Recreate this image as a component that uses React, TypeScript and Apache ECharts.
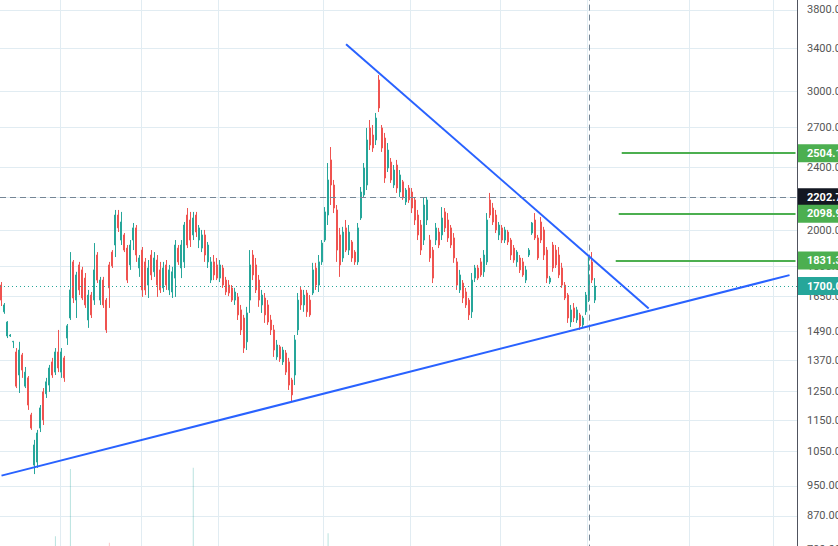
import React, { useEffect, useRef } from "react";
import * as echarts from "echarts";

// Daily OHLC bars (price), oldest first
const opens = [
  1705, 1577, 1470, 1470, 1445, 1403, 1312, 1391, 1270, 1301,
  1168, 1009, 1018, 1124, 1249, 1242, 1274, 1363, 1323, 1403,
  1323, 1379, 1461, 1549, 1824, 1632, 1808, 1782, 1740, 1540,
  1656, 1632, 1861, 1632, 1730, 1632, 1808, 1877, 1916, 2091,
  1944, 1973, 1899, 1808, 1944, 2014, 1792, 1888, 1824, 1705,
  1861, 1772, 1834, 1782, 1691, 1808, 1681, 1671, 1740, 1899,
  1792, 1824, 2091, 2061, 1973, 2091, 1944, 1899, 1973, 1824,
  1730, 1824, 1808, 1740, 1792, 1730, 1705, 1691, 1632, 1647,
  1586, 1549, 1445, 1632, 1861, 1808, 1730, 1609, 1642, 1609,
  1540, 1496, 1383, 1424, 1363, 1399, 1363, 1293, 1312, 1496,
  1681, 1609, 1666, 1632, 1666, 1792, 1705, 1824, 1944, 2091,
  2455, 2282, 2122, 1973, 1845, 2014, 1888, 1933, 1877, 1824,
  2073, 2217, 2282, 2695, 2640, 2602, 3099, 2695, 2617, 2398,
  2440, 2282, 2419, 2236, 2303, 2172, 2262, 2236, 2185, 2091,
  2031, 1944, 2061, 1944, 1888, 1944, 1990, 1973, 2110, 2061,
  2014, 1956, 1824, 1681, 1715, 1671, 1632, 1577, 1740, 1792,
  1824, 1772, 1824, 2185, 2134, 2091, 1973, 2014, 1944, 1990,
  1944, 1899, 1824, 1845, 1824, 1730, 1861, 1984, 2061, 1956,
  2049, 2002, 1888, 1720, 1916, 1888, 1861, 1792, 1705, 1656,
  1531, 1595, 1540, 1563, 1518, 1577, 1632, 1824, 1632,
];

const closes = [
  1632, 1609, 1531, 1474, 1447, 1270, 1411, 1331, 1323, 1202,
  1124, 1070, 1108, 1192, 1151, 1286, 1339, 1312, 1403, 1339,
  1403, 1301, 1514, 1681, 1642, 1756, 1681, 1642, 1609, 1656,
  1563, 1782, 1730, 1730, 1609, 1496, 1691, 1803, 2091, 2014,
  2049, 1888, 1730, 1916, 2014, 1861, 1845, 1681, 1681, 1792,
  1756, 1845, 1705, 1681, 1792, 1705, 1782, 1772, 1916, 1824,
  1916, 2031, 1916, 1944, 2073, 1990, 2014, 1973, 1861, 1916,
  1824, 1756, 1740, 1808, 1705, 1671, 1666, 1632, 1671, 1563,
  1496, 1419, 1572, 1808, 1756, 1681, 1632, 1656, 1563, 1531,
  1496, 1411, 1432, 1375, 1411, 1323, 1274, 1238, 1453, 1632,
  1609, 1656, 1577, 1563, 1782, 1705, 1824, 1927, 2110, 2316,
  2282, 2134, 1888, 1808, 1990, 1888, 1990, 1845, 1824, 2014,
  2236, 2398, 2602, 2564, 2542, 2774, 2856, 2542, 2329, 2527,
  2316, 2384, 2262, 2350, 2198, 2249, 2185, 2134, 2061, 1973,
  1888, 2153, 2185, 1845, 1740, 2014, 1916, 2073, 2014, 1956,
  1916, 1845, 1705, 1756, 1642, 1609, 1563, 1730, 1792, 1740,
  1756, 1861, 2061, 2091, 2049, 2002, 2031, 1944, 2002, 1933,
  1861, 1834, 1877, 1782, 1756, 1782, 1888, 2043, 1956, 1845,
  1944, 1861, 1740, 1740, 1792, 1808, 1756, 1705, 1642, 1549,
  1586, 1549, 1586, 1514, 1549, 1656, 1756, 1730, 1700,
];

const lows = [
  1604, 1568, 1461, 1466, 1419, 1263, 1245, 1301, 1263, 1185,
  1118, 983, 1001, 1111, 1134, 1227, 1249, 1301, 1312, 1323,
  1301, 1286, 1432, 1540, 1618, 1549, 1656, 1632, 1595, 1505,
  1549, 1609, 1715, 1609, 1595, 1483, 1595, 1792, 1850, 1990,
  1916, 1877, 1715, 1782, 1888, 1824, 1746, 1647, 1656, 1642,
  1730, 1746, 1647, 1666, 1671, 1681, 1656, 1642, 1647, 1808,
  1740, 1792, 1899, 1905, 1944, 1961, 1899, 1877, 1824, 1792,
  1715, 1730, 1730, 1720, 1691, 1656, 1651, 1623, 1609, 1540,
  1474, 1399, 1411, 1572, 1730, 1666, 1600, 1572, 1527, 1518,
  1474, 1383, 1371, 1363, 1351, 1312, 1256, 1213, 1274, 1474,
  1586, 1577, 1554, 1554, 1656, 1681, 1671, 1808, 1933, 2031,
  2153, 2103, 1824, 1746, 1824, 1877, 1861, 1824, 1808, 1808,
  2061, 2198, 2249, 2527, 2513, 2564, 2823, 2513, 2296, 2370,
  2296, 2262, 2230, 2204, 2185, 2153, 2166, 2103, 2031, 1944,
  1861, 1916, 2031, 1824, 1715, 1916, 1899, 1944, 1990, 1933,
  1899, 1819, 1681, 1666, 1618, 1595, 1540, 1549, 1720, 1730,
  1746, 1746, 1808, 2073, 2031, 1984, 1944, 1927, 1927, 1916,
  1834, 1819, 1798, 1766, 1746, 1715, 1850, 1973, 1944, 1834,
  1927, 1834, 1715, 1710, 1772, 1792, 1740, 1691, 1632, 1527,
  1509, 1531, 1527, 1496, 1505, 1563, 1623, 1715, 1618,
];

const highs = [
  1720, 1618, 1535, 1478, 1449, 1419, 1445, 1399, 1343, 1308,
  1175, 1086, 1118, 1202, 1263, 1301, 1351, 1379, 1419, 1496,
  1419, 1387, 1522, 1877, 1834, 1772, 1824, 1798, 1766, 1681,
  1671, 1927, 1877, 1746, 1746, 1642, 1824, 1888, 2122, 2122,
  2110, 1984, 1916, 1944, 2043, 2031, 1861, 1905, 1845, 1834,
  1888, 1877, 1861, 1824, 1824, 1834, 1808, 1798, 1944, 1916,
  1944, 2049, 2134, 2110, 2110, 2110, 2031, 2002, 2002, 1933,
  1850, 1861, 1845, 1834, 1808, 1746, 1730, 1705, 1691, 1666,
  1609, 1563, 1600, 1888, 1888, 1845, 1756, 1681, 1666, 1632,
  1563, 1518, 1453, 1432, 1424, 1411, 1379, 1301, 1474, 1666,
  1695, 1681, 1681, 1656, 1819, 1819, 1861, 1944, 2140, 2433,
  2549, 2316, 2153, 2014, 2020, 2061, 2031, 1944, 1888, 2043,
  2269, 2433, 2695, 2758, 2718, 2815, 3144, 2718, 2656, 2579,
  2469, 2419, 2455, 2384, 2316, 2262, 2282, 2262, 2198, 2122,
  2061, 2198, 2204, 1973, 1905, 2043, 2014, 2140, 2134, 2103,
  2031, 1984, 1845, 1782, 1730, 1691, 1642, 1766, 1808, 1808,
  1845, 1888, 2103, 2230, 2166, 2122, 2049, 2031, 2020, 2002,
  1956, 1916, 1888, 1861, 1845, 1803, 1899, 2049, 2103, 1973,
  2079, 2020, 1905, 1751, 1933, 1916, 1905, 1819, 1720, 1666,
  1609, 1618, 1600, 1572, 1559, 1671, 1850, 1877, 1740,
];

// Volume per bar (millions)
const volumes = [
  3.1, 2.4, 4.2, 2.0, 2.6, 5.1, 4.4, 3.3, 3.9, 4.8,
  5.5, 6.2, 5.8, 4.1, 3.6, 3.0, 3.4, 2.7, 9.2, 4.6,
  3.8, 3.2, 5.4, 20.6, 6.1, 4.4, 3.5, 3.1, 3.7, 4.2,
  3.0, 5.9, 4.7, 3.2, 3.6, 4.9, 8.1, 4.3, 6.4, 5.0,
  4.1, 3.8, 4.5, 3.9, 4.0, 3.7, 2.9, 4.4, 3.3, 3.1,
  2.8, 3.0, 3.6, 2.7, 3.2, 2.9, 2.6, 2.8, 4.6, 3.4,
  3.9, 4.8, 5.2, 3.6, 20.8, 4.1, 3.0, 2.7, 3.4, 2.9,
  3.1, 2.6, 2.4, 2.8, 3.0, 2.5, 2.3, 2.6, 2.2, 3.1,
  3.5, 4.0, 4.6, 5.7, 3.8, 3.1, 3.0, 2.6, 2.9, 2.7,
  3.0, 3.6, 2.8, 2.5, 2.6, 3.2, 3.7, 4.4, 5.1, 4.8,
  3.6, 2.9, 3.0, 2.8, 4.1, 3.3, 3.9, 4.5, 6.0, 9.7,
  6.8, 5.2, 5.9, 4.3, 3.8, 3.4, 3.1, 2.9, 2.7, 3.6,
  4.9, 5.6, 6.7, 5.4, 4.2, 5.1, 7.2, 6.3, 5.0, 4.4,
  3.9, 3.3, 3.5, 3.0, 3.2, 2.8, 2.6, 2.9, 3.1, 3.4,
  3.7, 4.0, 3.3, 3.6, 3.9, 3.5, 2.8, 3.2, 2.9, 2.7,
  2.6, 2.9, 3.8, 3.1, 3.0, 2.7, 3.2, 3.9, 2.8, 2.5,
  2.4, 3.0, 4.6, 4.1, 3.2, 2.9, 2.6, 2.4, 2.3, 2.5,
  2.7, 2.6, 2.4, 2.8, 2.6, 2.5, 2.9, 3.4, 3.3, 3.0,
  2.9, 3.1, 3.4, 2.2, 3.0, 2.6, 2.8, 3.1, 3.3, 3.9,
  3.2, 2.8, 2.7, 3.0, 2.6, 3.4, 4.2, 3.9, 3.5,
];

// Price scale ticks on the right axis
const priceTicks = [3800, 3400, 3000, 2700, 2400, 2200, 2000, 1800, 1650, 1490, 1370, 1250, 1150, 1050, 950, 870, 790];

// Session slots: traded bars plus empty space to the right
const sessionCount = 266;
const sessions = Array.from({ length: sessionCount }, (_, i) => `S${i + 1}`);
// Month boundaries (slot index) for the vertical grid
const monthStarts = [20, 47, 73, 108, 137, 167, 196, 230, 258];

// Drawn trend lines: [slot, price]
const resistanceLine = [[115, 3440], [216, 1593]];
const supportLine = [[0, 978.6], [263, 1755]];
// Horizontal levels: price and the slot where each ray starts
const levelPrices = [2504.1, 2098.9, 1831.3];
const levelStarts = [207, 206, 205];
// Crosshair and last price
const crosshairSlot = 196;
const crosshairPrice = 2202.7;
const lastPrice = 1700.0;

const UP = "#26a69a";
const DOWN = "#ef5350";
const LEVEL = "#4caf50";
const TREND = "#2962ff";
const GRID = "#e1ecf2";
const FONT = "Roboto, 'Noto Sans', sans-serif";

export default function App() {
  const ref = useRef<HTMLDivElement>(null);

  useEffect(() => {
    document.body.style.margin = "0";
    document.body.style.overflow = "hidden";
    const chart = echarts.init(ref.current!, undefined, { renderer: "svg" });

    const candleData = opens.map((o, i) => [o, closes[i], lows[i], highs[i]]);
    const volumeData = volumes.map((v, i) => ({
      value: v,
      itemStyle: {
        color: closes[i] >= opens[i] ? "rgba(38,166,154,0.32)" : "rgba(239,83,80,0.32)",
      },
    }));

    const tagLabel = (text: string, bg: string) => ({
      show: true,
      position: "end",
      distance: 1,
      formatter: text,
      color: "#ffffff",
      backgroundColor: bg,
      padding: [4, 8, 3, 9],
      fontSize: 11,
      fontWeight: "bold",
      fontFamily: FONT,
    });

    const option: any = {
      animation: false,
      backgroundColor: "#ffffff",
      grid: { left: 0, right: 41, top: 0, bottom: 9.4 },
      xAxis: {
        type: "category",
        data: sessions,
        boundaryGap: true,
        axisLine: { show: false },
        axisTick: { show: false },
        axisLabel: { show: false },
        splitLine: {
          show: true,
          interval: (idx: number) => monthStarts.includes(idx),
          lineStyle: { color: GRID, width: 1 },
        },
      },
      yAxis: [
        {
          type: "log",
          position: "right",
          min: 700,
          max: 3912.3,
          axisLine: { show: true, lineStyle: { color: "#50535e", width: 1 } },
          axisTick: { show: false },
          axisLabel: { show: false },
          splitLine: { show: false },
        },
        { type: "value", min: 0, max: 100, show: false },
      ],
      series: [
        {
          name: "scale",
          type: "line",
          data: [],
          silent: true,
          markLine: {
            silent: true,
            z: 1,
            symbol: ["none", "none"],
            emphasis: { disabled: true },
            lineStyle: { color: GRID, width: 1, type: "solid" },
            label: {
              show: true,
              position: "end",
              distance: 10,
              color: "#555555",
              fontSize: 11,
              fontFamily: FONT,
              formatter: (p: any) => Number(p.value).toFixed(2),
            },
            data: priceTicks.map((v) => ({ yAxis: v })),
          },
        },
        {
          name: "volume",
          type: "bar",
          yAxisIndex: 1,
          data: volumeData,
          barWidth: 1,
          silent: true,
          z: 2,
        },
        {
          name: "price",
          type: "candlestick",
          data: candleData,
          barWidth: 1.5,
          z: 3,
          itemStyle: {
            color: UP,
            color0: DOWN,
            borderColor: UP,
            borderColor0: DOWN,
            borderWidth: 1,
          },
        },
        {
          name: "drawings",
          type: "line",
          data: [],
          silent: true,
          markLine: {
            silent: true,
            z: 6,
            symbol: ["none", "none"],
            emphasis: { disabled: true },
            label: { show: false },
            data: [
              {
                yAxis: lastPrice,
                lineStyle: { color: UP, width: 1, type: [1, 3] },
              },
              {
                yAxis: crosshairPrice,
                lineStyle: { color: "#758696", width: 1, type: [6, 4] },
              },
              {
                xAxis: sessions[crosshairSlot],
                lineStyle: { color: "#758696", width: 1, type: [6, 4] },
              },
              ...levelPrices.map((p, k) => [
                { coord: [sessions[levelStarts[k]], p], lineStyle: { color: LEVEL, width: 2, type: "solid" } },
                { coord: [sessions[sessionCount - 1], p] },
              ]),
              [
                { coord: [sessions[resistanceLine[0][0]], resistanceLine[0][1]], lineStyle: { color: TREND, width: 2, type: "solid" } },
                { coord: [sessions[resistanceLine[1][0]], resistanceLine[1][1]] },
              ],
              [
                { coord: [sessions[supportLine[0][0]], supportLine[0][1]], lineStyle: { color: TREND, width: 2, type: "solid" } },
                { coord: [sessions[supportLine[1][0]], supportLine[1][1]] },
              ],
            ],
          },
        },
        {
          name: "tags",
          type: "line",
          data: [],
          silent: true,
          markLine: {
            silent: true,
            z: 8,
            symbol: ["none", "none"],
            emphasis: { disabled: true },
            lineStyle: { color: "transparent", width: 0 },
            data: [
              { yAxis: levelPrices[0], label: tagLabel(levelPrices[0].toFixed(2), LEVEL) },
              { yAxis: crosshairPrice, label: tagLabel(crosshairPrice.toFixed(2), "#131722") },
              { yAxis: levelPrices[1], label: tagLabel(levelPrices[1].toFixed(2), LEVEL) },
              { yAxis: levelPrices[2], label: tagLabel(levelPrices[2].toFixed(2), LEVEL) },
              { yAxis: lastPrice, label: tagLabel(lastPrice.toFixed(2), UP) },
            ],
          },
        },
      ],
    };

    chart.setOption(option);
    return () => chart.dispose();
  }, []);

  return <div ref={ref} style={{ width: 838, height: 600 }} />;
}
